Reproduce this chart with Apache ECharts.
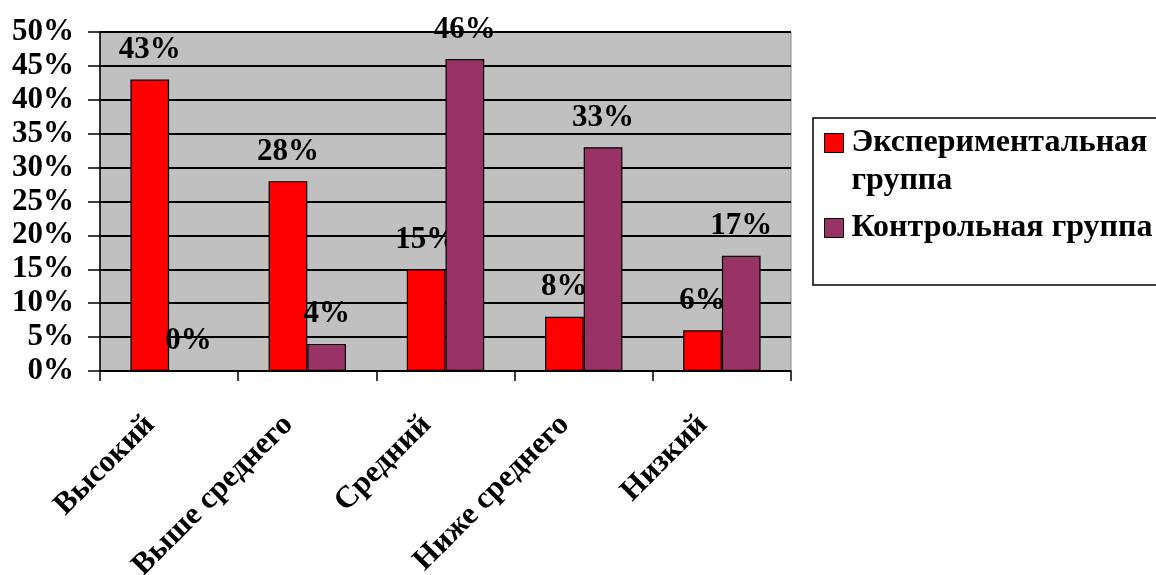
<!DOCTYPE html>
<html>
<head>
<meta charset="utf-8">
<script src="https://cdn.jsdelivr.net/npm/echarts@6/dist/echarts.min.js"></script>
<style>
html,body{margin:0;padding:0;background:#fff;}
#chart{width:1156px;height:575px;}
</style>
</head>
<body>
<div id="chart"></div>
<script>
const categories = ['Высокий', 'Выше среднего', 'Средний', 'Ниже среднего', 'Низкий'];
const seriesNames = ['Экспериментальная группа', 'Контрольная группа'];
const experimentalValues = [43, 28, 15, 8, 6];
const controlValues = [0, 4, 46, 33, 17];
const seriesColors = ['#FF0000', '#993366'];

const FONT = 'Liberation Serif';
const LEGEND_LH = 38;
const chart = echarts.init(document.getElementById('chart'), null, {renderer: 'canvas'});

function labelCfg() {
  return {
    show: true,
    position: 'top',
    distance: 14,
    formatter: '{c}%',
    fontFamily: FONT,
    fontSize: 31,
    fontWeight: 'bold',
    color: '#000'
  };
}

const legendTok = {
  fontFamily: FONT, fontSize: 32, fontWeight: 'bold', color: '#000',
  lineHeight: LEGEND_LH, padding: [0, 0, 0, 3]
};

const option = {
  backgroundColor: '#ffffff',
  animation: false,
  textStyle: {fontFamily: FONT},
  grid: {
    left: 100, right: 365, top: 32, bottom: 204,
    outerBoundsMode: 'none',
    containLabel: false,
    show: true, backgroundColor: '#C0C0C0', borderColor: '#8a8a8a', borderWidth: 1
  },
  legend: {
    orient: 'vertical',
    left: 824,
    top: 86,
    icon: 'rect',
    itemWidth: 19,
    itemHeight: 19,
    itemGap: 9,
    padding: 0,
    selectedMode: false,
    data: seriesNames,
    formatter: function (name) {
      if (name === seriesNames[0]) {
        const parts = name.split(' ');
        return '{s| }\n{t|' + parts[0] + '}\n{t|' + parts[1] + '}';
      }
      return '{t|' + name + '}';
    },
    textStyle: {
      fontFamily: FONT, fontSize: 32, fontWeight: 'bold', color: '#000',
      lineHeight: LEGEND_LH,
      rich: {t: legendTok, s: legendTok}
    },
    itemStyle: {borderColor: '#000', borderWidth: 1}
  },
  graphic: [{
    type: 'rect', z: -1,
    shape: {x: 813, y: 118, width: 400, height: 167},
    style: {fill: '#fff', stroke: '#000', lineWidth: 1.5}
  }],
  xAxis: {
    type: 'category',
    data: categories,
    axisLine: {lineStyle: {color: '#000', width: 1.5}},
    axisTick: {show: true, length: 10, lineStyle: {color: '#000', width: 1.5}},
    axisLabel: {
      interval: 0, rotate: 45, margin: 30,
      fontFamily: FONT, fontSize: 31, fontWeight: 'bold', color: '#000',
      padding: [0, 27, 0, 0]
    },
    splitLine: {show: false}
  },
  yAxis: {
    type: 'value',
    min: 0, max: 50, interval: 5,
    axisLine: {show: true, lineStyle: {color: '#000', width: 1.5}},
    axisTick: {show: true, length: 12, lineStyle: {color: '#000', width: 1.5}},
    axisLabel: {
      formatter: '{value}%', margin: 26,
      fontFamily: FONT, fontSize: 31, fontWeight: 'bold', color: '#000'
    },
    splitLine: {show: true, lineStyle: {color: '#000', width: 2}}
  },
  series: [
    {
      name: seriesNames[0], type: 'bar', data: experimentalValues, z: 2,
      barGap: '0%', barCategoryGap: '44%',
      itemStyle: {color: seriesColors[0], borderColor: '#000', borderWidth: 1.2},
      label: labelCfg()
    },
    {
      name: seriesNames[1], type: 'bar', data: controlValues, z: 3,
      barGap: '0%', barCategoryGap: '44%',
      itemStyle: {color: seriesColors[1], borderColor: '#000', borderWidth: 1.2},
      label: labelCfg()
    }
  ]
};
chart.setOption(option);
</script>
</body>
</html>
